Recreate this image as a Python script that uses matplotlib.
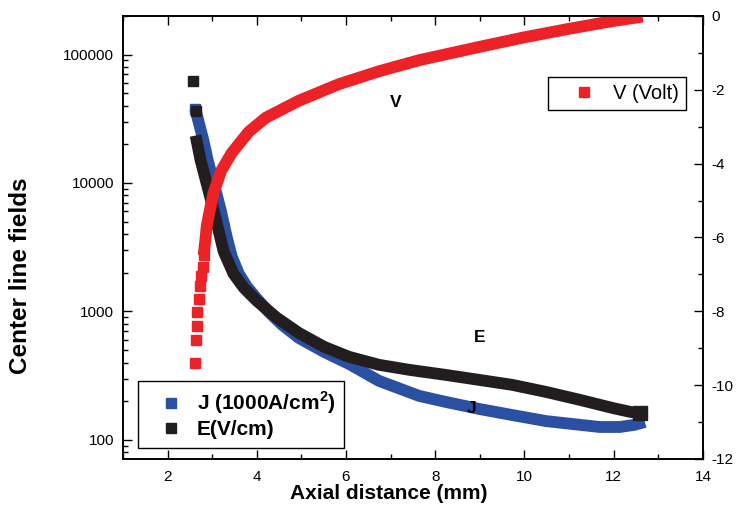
import numpy as np
import matplotlib
matplotlib.use("Agg")
import matplotlib.pyplot as plt
from matplotlib.lines import Line2D
from matplotlib.ticker import MultipleLocator, LogLocator, FixedLocator, NullFormatter

plt.rcParams["font.family"] = ["Liberation Sans", "DejaVu Sans"]
plt.rcParams["mathtext.fontset"] = "custom"
plt.rcParams["mathtext.rm"] = "Liberation Sans"
plt.rcParams["mathtext.bf"] = "Liberation Sans:bold"
plt.rcParams["axes.unicode_minus"] = False

# ── Centre-line data ───────────────────────────────────────────────────────────
# current density J (x1000 A/cm^2) along the axis
j_x = [2.62, 2.80, 2.90, 3.19, 3.33, 3.44, 3.60, 3.78, 4.0, 4.27, 4.56, 4.94,
       5.51, 6.07, 6.74, 7.64, 8.25, 8.99, 9.73, 10.49, 11.24, 11.69, 12.14,
       12.47, 12.70]
j_val = [38000, 21700, 15100, 6200, 3750, 2670, 1960, 1556, 1261, 990, 791,
         623, 484, 390, 288, 220, 197, 174, 156, 140, 131, 126, 126, 131, 138]

# electric field E (V/cm): two isolated points, then the continuous trace
e_pts_x = [2.58, 2.63]
e_pts = [62700, 36600]
e_x = [2.63, 2.74, 3.03, 3.26, 3.48, 3.71, 4.0, 4.45, 4.94, 5.51, 6.07, 6.74,
       7.42, 8.25, 8.99, 9.73, 10.49, 11.24, 11.98, 12.38, 12.58]
e_val = [23400, 15100, 6200, 2915, 1963, 1528, 1210, 892, 681, 530, 443, 384,
         351, 320, 293, 268, 236, 205, 177, 165, 162]

# potential V (Volt): sparse near the emitter, dense further out
v_pts_x = [2.62, 2.64, 2.65, 2.67, 2.70, 2.73, 2.75, 2.79, 2.81]
v_pts = [-9.39, -8.78, -8.40, -8.02, -7.67, -7.32, -7.05, -6.80, -6.48]
v_x = [2.81, 2.85, 2.88, 2.95, 3.03, 3.2, 3.44, 3.82, 4.2, 4.94, 5.4, 5.84,
       6.74, 7.64, 8.99, 10.0, 11.0, 11.98, 12.65]
v_val = [-6.48, -6.05, -5.68, -5.25, -4.80, -4.20, -3.71, -3.14, -2.76, -2.30,
         -2.07, -1.85, -1.50, -1.20, -0.84, -0.58, -0.35, -0.14, -0.02]

RED, BLUE, BLACK = "#ED2226", "#2B50A2", "#221E1F"
LW, MS = 8.5, 7

fig = plt.figure(figsize=(7.36, 5.07), dpi=100)
ax = fig.add_axes([0.167, 0.0947, 0.788, 0.874])
ax2 = ax.twinx()

# J under E, V on the twin axis on top
ax.plot(j_x, j_val, color=BLUE, lw=LW, solid_joinstyle="round",
        solid_capstyle="butt")
ax.plot(j_x[:1], j_val[:1], "s", color=BLUE, ms=MS)
ax.plot(e_x, e_val, color=BLACK, lw=LW, solid_joinstyle="round",
        solid_capstyle="butt")
ax.plot(e_pts_x, e_pts, "s", color=BLACK, ms=MS, ls="none")
ax.plot(e_x[-1:], e_val[-1:], "s", color=BLACK, ms=MS + 3)

ax2.plot(v_x, v_val, color=RED, lw=LW, solid_joinstyle="round",
         solid_capstyle="butt")
ax2.plot(v_pts_x, v_pts, "s", color=RED, ms=MS - 0.5, ls="none")

ax.set_xlim(1, 14)
ax.set_yscale("log")
ax.set_ylim(71, 2.0e5)
ax2.set_ylim(-12, 0)

ax.xaxis.set_major_locator(MultipleLocator(2))
ax.xaxis.set_minor_locator(MultipleLocator(1))
ax.yaxis.set_major_locator(FixedLocator([100, 1000, 10000, 100000]))
ax.set_yticklabels(["100", "1000", "10000", "100000"])
ax.yaxis.set_minor_locator(LogLocator(base=10, subs=np.arange(2, 10)))
ax.yaxis.set_minor_formatter(NullFormatter())
ax2.yaxis.set_major_locator(MultipleLocator(2))
ax2.yaxis.set_minor_locator(MultipleLocator(1))

ax.tick_params(which="both", direction="in", top=True, right=False,
               labelsize=11, width=1.0, pad=6.5)
ax.tick_params(axis="x", pad=8)
ax.tick_params(which="major", length=6.5)
ax.tick_params(which="minor", length=3.3)
ax2.tick_params(which="both", direction="in", labelsize=11, width=1.0, pad=6)
ax2.tick_params(which="major", length=6.5)
ax2.tick_params(which="minor", length=3.3)
for a in (ax, ax2):
    for s in a.spines.values():
        s.set_linewidth(1.2)

ax.set_xlabel("Axial distance (mm)", fontsize=15, fontweight="bold")
ax.set_ylabel("Center line fields", fontsize=17.5, fontweight="bold")
ax.xaxis.set_label_coords(0.459, -0.056)
ax.yaxis.set_label_coords(-0.157, 0.413)

ax.text(7.12, 42300, "V", fontsize=12.5, fontweight="bold", ha="center",
        va="center")
ax.text(9.0, 630, "E", fontsize=12.5, fontweight="bold", ha="center",
        va="center")
ax.text(8.82, 177, "J", fontsize=12.5, fontweight="bold", ha="center",
        va="center")

# legends
h_je = [Line2D([], [], ls="none", marker="s", ms=MS, color=BLUE),
        Line2D([], [], ls="none", marker="s", ms=MS, color=BLACK)]
leg1 = ax2.legend(h_je, [r"J (1000A/cm$^{\mathbf{2}}$)", "E(V/cm)"],
                  loc="lower left", bbox_to_anchor=(0.026, 0.025),
                  borderaxespad=0, prop={"size": 15, "weight": "bold"},
                  handlelength=2.3, handletextpad=0.1, labelspacing=0.18,
                  borderpad=0.42, fancybox=False, framealpha=1,
                  edgecolor="black")
leg1.get_frame().set_linewidth(1.0)
ax2.add_artist(leg1)

h_v = [Line2D([], [], ls="none", marker="s", ms=MS, color=RED)]
leg2 = ax2.legend(h_v, ["V (Volt)"], loc="upper left",
                  bbox_to_anchor=(0.733, 0.862), borderaxespad=0,
                  prop={"size": 14.5}, handlelength=2.9, handletextpad=0.0,
                  borderpad=0.35, fancybox=False, framealpha=1,
                  edgecolor="black")
leg2.get_frame().set_linewidth(1.0)

fig.savefig("out.png", dpi=100)
